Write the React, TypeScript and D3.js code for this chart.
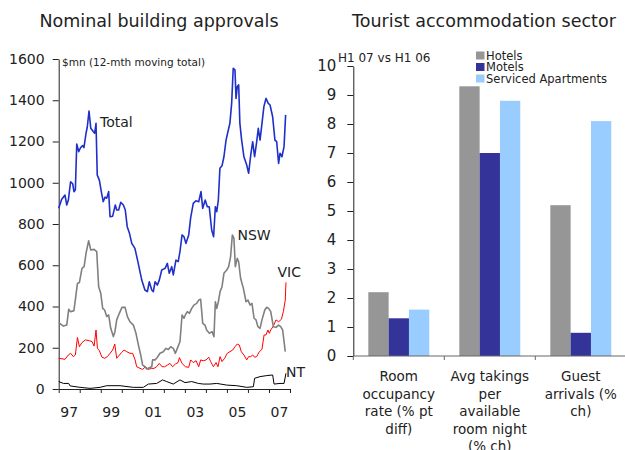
import { useEffect, useRef } from 'react';
import * as d3 from 'd3';

// Left panel: 12-month moving totals, [months since Jan 1997, $mn]
const totalSeries: [number, number][] = [
  [0, 876], [1.7, 920], [3.6, 940], [4.6, 892], [5.5, 916], [6.8, 1005], [8, 995], [8.7, 957], [9.5, 965],
  [10.3, 1188], [11.4, 1151], [12.6, 1172], [13.7, 1180], [14.4, 1170], [15.6, 1240], [16.3, 1269], [17.3, 1348],
  [18.3, 1264], [19.7, 1248], [20.5, 1240], [21.3, 1288], [22, 1037], [23.2, 1013], [24.5, 949], [25.4, 908],
  [26.4, 930], [27.4, 925], [28.5, 957], [29.3, 835], [30.8, 838], [32.3, 892], [33.1, 868], [34.2, 868],
  [35.4, 905], [36.9, 892], [38, 868], [39.1, 787], [40.3, 758], [41.7, 706], [43.5, 682], [45.4, 609],
  [47.4, 528], [49.2, 480], [50.6, 472], [51.7, 520], [53.1, 480], [54, 472], [55, 520], [56.3, 504],
  [57.4, 528], [58.8, 577], [60.7, 585], [62, 609], [63.1, 561], [64.5, 593], [65.4, 553], [66.9, 625],
  [68.2, 618], [69.2, 666], [70.4, 747], [71.5, 738], [72.6, 706], [74.2, 747], [75.3, 830], [76.8, 900],
  [78.3, 913], [79.9, 908], [81.2, 957], [82.2, 876], [83.6, 916], [84.8, 884], [85.9, 884], [87.3, 771],
  [88.4, 738], [89.4, 884], [90.2, 860], [91.1, 916], [92, 1070], [93.2, 1082], [94.3, 1126], [95.5, 1207],
  [96.8, 1256], [97.7, 1288], [98.7, 1385], [99.6, 1555], [100.6, 1547], [101.2, 1409], [101.9, 1466],
  [102.7, 1475], [103.4, 1288], [104.4, 1207], [105.7, 1126], [107.3, 1086], [108.4, 1046], [109.6, 1135],
  [110.7, 1199], [111.8, 1126], [113, 1199], [113.9, 1264], [114.9, 1207], [115.8, 1272], [117.1, 1369],
  [118.3, 1409], [119.6, 1385], [120.6, 1377], [122.1, 1320], [123.4, 1207], [124.4, 1199], [125.5, 1094],
  [126.3, 1143], [127.4, 1126], [128.6, 1175], [129.5, 1329],
];

const nswSeries: [number, number][] = [
  [0, 322], [2.7, 305], [4.6, 310], [5.7, 386], [6.8, 375], [8.7, 380], [10.7, 512], [11.8, 516], [13.3, 585],
  [14.5, 593], [15.6, 658], [17.1, 719], [18.3, 674], [20.2, 677], [21.7, 666], [22.8, 496], [24, 464],
  [25.1, 391], [26.2, 383], [27.4, 351], [28.5, 359], [29.7, 294], [31.2, 254], [32.1, 278], [33.1, 335],
  [34.6, 367], [36.1, 396], [37.9, 396], [39.2, 351], [40.7, 326], [42.6, 310], [44.1, 270], [45.5, 213],
  [46.8, 165], [47.9, 116], [49.3, 108], [50.2, 97], [51.7, 103], [53.1, 108], [53.6, 141], [55, 141],
  [56.3, 154], [57.8, 173], [59.7, 181], [61.2, 197], [62.6, 192], [63.9, 205], [65.4, 197], [66.6, 173],
  [67.7, 197], [69.2, 229], [70.4, 359], [71.5, 343], [72.3, 359], [73.4, 375], [74.6, 367], [75.9, 391],
  [77.2, 407], [78.7, 415], [79.9, 431], [81, 435], [82.2, 318], [83.5, 310], [84.4, 286], [86, 270],
  [87.5, 278], [88.6, 254], [89.4, 423], [90.2, 391], [91.1, 423], [92.1, 472], [93.2, 496], [94.3, 561],
  [95.9, 577], [97, 593], [98.1, 642], [99.1, 747], [100, 730], [100.8, 593], [101.9, 634], [102.7, 617],
  [103.8, 537], [105.4, 488], [106.9, 423], [108, 431], [109.2, 407], [110.3, 415], [111.5, 343],
  [112.6, 335], [113.7, 302], [114.9, 294], [116, 335], [117.6, 383], [118.7, 396], [119.8, 391], [121, 375],
  [122.5, 302], [124, 299], [125.5, 310], [126.7, 302], [127.8, 286], [129.3, 181],
];

const vicSeries: [number, number][] = [
  [0, 149], [3.6, 144], [5.5, 165], [6.8, 173], [8.4, 157], [9.5, 165], [10.7, 250], [11.8, 205], [13.3, 225],
  [15.2, 238], [17.5, 234], [19, 230], [20.2, 208], [21.3, 286], [22.1, 197], [23.2, 186], [24.7, 154],
  [26.2, 149], [27.8, 157], [29.3, 173], [30.8, 189], [32, 218], [33.1, 149], [34.2, 160], [35.8, 176],
  [37.3, 189], [38.8, 181], [40.7, 173], [42.2, 173], [43.6, 141], [44.5, 108], [46.4, 100], [47.9, 95],
  [49.5, 108], [51, 95], [52.9, 100], [54.4, 100], [55.9, 108], [57.4, 124], [59, 108], [60.5, 108],
  [62, 116], [63.5, 124], [65, 108], [66.6, 121], [68.1, 128], [68.9, 152], [70.4, 124], [72.3, 108],
  [74.2, 105], [75.3, 141], [76.8, 128], [78.4, 137], [79.9, 108], [81, 141], [82.5, 137], [84.1, 141],
  [85.6, 154], [86.7, 133], [88.3, 108], [89.8, 128], [90.9, 108], [92.1, 157], [93.2, 133], [94.7, 149],
  [96.2, 173], [97.7, 181], [99.3, 189], [100.6, 205], [101.9, 218], [103.1, 213], [104.2, 181], [105.7, 165],
  [107.3, 141], [108.4, 157], [109.6, 157], [110.7, 165], [111.8, 154], [113, 157], [114.5, 181], [116, 192],
  [117.2, 262], [118.3, 262], [119.4, 286], [120.2, 270], [121, 286], [122.5, 305], [124, 335], [125.5, 326],
  [127.1, 338], [128.2, 375], [129.3, 431], [129.7, 517],
];

const ntSeries: [number, number][] = [
  [0, 36], [2.7, 27], [5.7, 27], [6.5, 15], [12.2, 8], [17.9, 3], [23.6, 8], [27.4, 16], [35, 16], [42.6, 8],
  [48.3, 8], [51.2, 24], [55.9, 27], [59.3, 44], [61.6, 36], [65.4, 24], [69.2, 44], [72.1, 31], [75.9, 36],
  [79.7, 27], [82.5, 24], [86.3, 24], [90.2, 27], [95.9, 19], [101.6, 16], [107.3, 8], [111.1, 11],
  [111.8, 52], [114.9, 60], [118.7, 65], [122.1, 68], [122.9, 24], [126.3, 27], [128.6, 27], [129.7, 76],
];

const yearLabels = ['97', '99', '01', '03', '05', '07'];

// Right panel
const categories = ['Room occupancy', 'Avg takings', 'Guest arrivals'];
const categoryLines = [
  ['Room', 'occupancy', 'rate (% pt', 'diff)'],
  ['Avg takings', 'per', 'available', 'room night', '(% ch)'],
  ['Guest', 'arrivals (%', 'ch)'],
];
const seriesNames = ['Hotels', 'Motels', 'Serviced Apartments'];
const hotels = [2.2, 9.3, 5.2];
const motels = [1.3, 7.0, 0.8];
const serviced = [1.6, 8.8, 8.1];

const FONT = '"DejaVu Sans", Verdana, sans-serif';

const App = () => {
  const svgRef = useRef<SVGSVGElement>(null);

  useEffect(() => {
    const svg = d3.select(svgRef.current);
    svg.selectAll('*').remove();
    svg.style('font-family', FONT);

    // ---------- left panel ----------
    const x = d3.scaleLinear().domain([0, 132]).range([58.7, 290]);
    const y = d3.scaleLinear().domain([0, 1600]).range([389, 59]);

    svg.append('text')
      .attr('x', 159).attr('y', 26.5)
      .attr('text-anchor', 'middle')
      .style('font-size', '17.5px').style('fill', '#222')
      .text('Nominal building approvals');

    const yAx = svg.append('g')
      .attr('transform', `translate(${x(0)},0)`)
      .call(d3.axisLeft(y).tickValues(d3.range(0, 1601, 200)).tickFormat(d3.format('d'))
        .tickSize(6).tickSizeOuter(0).tickPadding(8));
    yAx.selectAll('text').style('font-size', '14px').style('fill', '#222').style('font-family', FONT);
    yAx.selectAll('line,path').attr('stroke', '#222');

    const xAx = svg.append('g')
      .attr('transform', `translate(0,${y(0)})`)
      .call(d3.axisBottom(x).tickValues(d3.range(0, 133, 12)).tickSize(4).tickSizeOuter(0).tickFormat(() => ''));
    xAx.selectAll('line,path').attr('stroke', '#222');

    svg.selectAll('.yearlab')
      .data(yearLabels)
      .enter()
      .append('text')
      .attr('x', (d, i) => x(i * 24 + 6))
      .attr('y', 416.5)
      .attr('text-anchor', 'middle')
      .style('font-size', '14px').style('fill', '#222')
      .text(d => d);

    svg.append('text')
      .attr('x', 62).attr('y', 66)
      .style('font-size', '10.5px').style('fill', '#222')
      .text('$mn (12-mth moving total)');

    const line = d3.line<[number, number]>().x(d => x(d[0])).y(d => y(d[1]));
    const series = [
      { data: ntSeries, color: '#000000', width: 1 },
      { data: vicSeries, color: '#ff0000', width: 1 },
      { data: nswSeries, color: '#808080', width: 1.6 },
      { data: totalSeries, color: '#1f30c8', width: 1.6 },
    ];
    series.forEach(s => {
      svg.append('path')
        .attr('d', line(s.data))
        .attr('fill', 'none')
        .attr('stroke', s.color)
        .attr('stroke-width', s.width)
        .attr('stroke-linejoin', 'round');
    });

    const seriesLabels = [
      { t: 'Total', x: 100, y: 127 },
      { t: 'NSW', x: 237.5, y: 240 },
      { t: 'VIC', x: 277.5, y: 277 },
      { t: 'NT', x: 286, y: 377 },
    ];
    seriesLabels.forEach(l => {
      svg.append('text')
        .attr('x', l.x).attr('y', l.y)
        .style('font-size', '14px').style('fill', '#222')
        .text(l.t);
    });

    // ---------- right panel ----------
    const x0 = d3.scaleBand().domain(categories).range([353.3, 626.3]).paddingInner(0.33).paddingOuter(0.165);
    const x1 = d3.scaleBand().domain(seriesNames).range([0, x0.bandwidth()]);
    const y2 = d3.scaleLinear().domain([0, 10]).range([356, 66]);
    const colors = ['#969696', '#333399', '#99ccff'];
    const values = [hotels, motels, serviced];

    svg.append('text')
      .attr('x', 484).attr('y', 26.5)
      .attr('text-anchor', 'middle')
      .style('font-size', '17.5px').style('fill', '#222')
      .text('Tourist accommodation sector');

    values.forEach((vals, si) => {
      svg.selectAll(`.bar${si}`)
        .data(vals)
        .enter()
        .append('rect')
        .attr('x', (d, i) => (x0(categories[i]) as number) + (x1(seriesNames[si]) as number))
        .attr('y', d => y2(d))
        .attr('width', x1.bandwidth())
        .attr('height', d => y2(0) - y2(d))
        .attr('fill', colors[si]);
    });

    const y2Ax = svg.append('g')
      .attr('transform', `translate(353.3,0)`)
      .call(d3.axisLeft(y2).ticks(10).tickSize(6).tickSizeOuter(0).tickPadding(11));
    y2Ax.selectAll('text').style('font-size', '15px').style('fill', '#222').style('font-family', FONT);
    y2Ax.selectAll('line,path').attr('stroke', '#222');

    // category axis with ticks between groups
    const step = x0.step();
    const bounds = categories.map(c => (x0(c) as number) - x0.paddingInner() * step / 2);
    const xAx2 = svg.append('g');
    xAx2.append('line')
      .attr('x1', 353.3).attr('x2', 626).attr('y1', y2(0)).attr('y2', y2(0))
      .attr('stroke', '#666');
    xAx2.selectAll('.ctick')
      .data(bounds)
      .enter()
      .append('line')
      .attr('x1', d => d).attr('x2', d => d)
      .attr('y1', y2(0)).attr('y2', y2(0) + 4)
      .attr('stroke', '#666');

    categoryLines.forEach((lines, ci) => {
      const cx = (x0(categories[ci]) as number) + x0.bandwidth() / 2;
      lines.forEach((t, li) => {
        svg.append('text')
          .attr('x', cx).attr('y', 381 + li * 17.5)
          .attr('text-anchor', 'middle')
          .style('font-size', '13.5px').style('fill', '#222')
          .text(t);
      });
    });

    svg.append('text')
      .attr('x', 338).attr('y', 61.5)
      .style('font-size', '12px').style('fill', '#222')
      .text('H1 07 vs H1 06');

    seriesNames.forEach((n, i) => {
      const g = svg.append('g').attr('transform', `translate(476,${51.5 + i * 11.5})`);
      g.append('rect').attr('width', 8.5).attr('height', 8).attr('fill', colors[i]);
      g.append('text')
        .attr('x', 10).attr('y', 8)
        .style('font-size', '11.5px').style('fill', '#222')
        .text(n);
    });
  }, []);

  return (
    <svg
      ref={svgRef}
      width={625}
      height={450}
      style={{ position: 'absolute', left: 0, top: 0, background: '#fff' }}
    />
  );
};

export default App;
